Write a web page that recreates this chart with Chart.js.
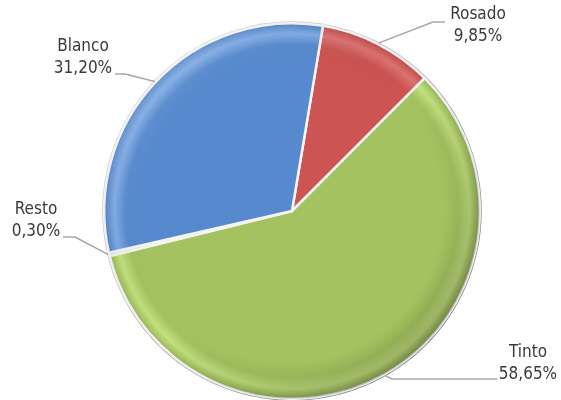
<!DOCTYPE html>
<html>
<head>
<meta charset="utf-8">
<script src="https://cdn.jsdelivr.net/npm/chart.js@4.4.1/dist/chart.umd.min.js"></script>
<style>
  html, body { margin: 0; padding: 0; background: #fff; }
  #wrap { width: 561px; height: 400px; position: relative; }
</style>
</head>
<body>
<div id="wrap"><canvas id="pieChart"></canvas></div>
<script>
// data, clockwise from the top
const categories = ["Rosado", "Tinto", "Resto", "Blanco"];
const shares = [9.85, 58.65, 0.30, 31.20];
const shareLabels = ["9,85%", "58,65%", "0,30%", "31,20%"];

const baseColors = ["#cc5452", "#a4c360", "#d9d9d9", "#5689ce"];
const lightColors = ["#dd7472", "#c4e27f", "#eeeeee", "#7eaae6"];
const darkColors = ["#9a3c3a", "#7a9940", "#a0a0a0", "#3d6aa8"];

// where each label text sits, and the elbow of its leader line
const labelLayout = [
  { x: 478, y: 15, elbowX: 433, elbowY: 22, endX: 445 },
  { x: 528, y: 353, elbowX: 392, elbowY: 379, endX: 497 },
  { x: 36, y: 210, elbowX: 75, elbowY: 237, endX: 63 },
  { x: 83, y: 47, elbowX: 125, elbowY: 74, endX: 115 }
];

function sliceFill(ctx) {
  const chart = ctx.chart;
  const area = chart.chartArea;
  const i = ctx.dataIndex;
  if (!area) return baseColors[i];
  const cx = (area.left + area.right) / 2;
  const cy = (area.top + area.bottom) / 2;
  const r = Math.min(area.right - area.left, area.bottom - area.top) / 2;
  const g = chart.ctx.createRadialGradient(cx, cy, 0, cx, cy, r);
  g.addColorStop(0, baseColors[i]);
  g.addColorStop(0.88, baseColors[i]);
  g.addColorStop(0.94, lightColors[i]);
  g.addColorStop(0.98, baseColors[i]);
  g.addColorStop(1, darkColors[i]);
  return g;
}

const outerRing = {
  id: "outerRing",
  beforeDatasetsDraw(chart) {
    const arc = chart.getDatasetMeta(0).data[0];
    if (!arc) return;
    const c = chart.ctx;
    c.save();
    const g = c.createLinearGradient(arc.x - arc.outerRadius, arc.y - arc.outerRadius, arc.x + arc.outerRadius, arc.y + arc.outerRadius);
    g.addColorStop(0, "#e6e6e6");
    g.addColorStop(0.5, "#b0b0b0");
    g.addColorStop(1, "#6f6f6f");
    c.beginPath();
    c.arc(arc.x, arc.y, arc.outerRadius + 2, 0, Math.PI * 2);
    c.fillStyle = g;
    c.fill();
    c.restore();
  },
  afterDatasetsDraw(chart) {
    // shade the lower right rim, as if lit from the upper left
    const arc = chart.getDatasetMeta(0).data[0];
    if (!arc) return;
    const r = arc.outerRadius;
    const size = Math.ceil(r * 2);
    const off = document.createElement("canvas");
    off.width = size;
    off.height = size;
    const o = off.getContext("2d");
    const lg = o.createLinearGradient(r * 0.3, r * 0.3, r * 1.7, r * 1.7);
    lg.addColorStop(0, "rgba(255,255,255,0.15)");
    lg.addColorStop(0.5, "rgba(0,0,0,0)");
    lg.addColorStop(1, "rgba(0,0,0,0.28)");
    o.fillStyle = lg;
    o.fillRect(0, 0, size, size);
    o.globalCompositeOperation = "destination-in";
    const rg = o.createRadialGradient(r, r, 0, r, r, r);
    rg.addColorStop(0, "rgba(0,0,0,0)");
    rg.addColorStop(0.8, "rgba(0,0,0,0)");
    rg.addColorStop(1, "rgba(0,0,0,1)");
    o.fillStyle = rg;
    o.beginPath();
    o.arc(r, r, r, 0, Math.PI * 2);
    o.fill();
    chart.ctx.drawImage(off, arc.x - r, arc.y - r);
  }
};

const leaderLabels = {
  id: "leaderLabels",
  afterDatasetsDraw(chart) {
    const c = chart.ctx;
    const arcs = chart.getDatasetMeta(0).data;
    c.save();
    arcs.forEach((arc, i) => {
      const lay = labelLayout[i];
      const mid = (arc.startAngle + arc.endAngle) / 2;
      const sx = arc.x + Math.cos(mid) * (arc.outerRadius + 1);
      const sy = arc.y + Math.sin(mid) * (arc.outerRadius + 1);
      c.strokeStyle = "#a6a6a6";
      c.lineWidth = 1.5;
      c.beginPath();
      c.moveTo(sx, sy);
      c.lineTo(lay.elbowX, lay.elbowY);
      c.lineTo(lay.endX, lay.elbowY);
      c.stroke();
      c.fillStyle = "#3a3a3a";
      c.font = "17px 'DejaVu Sans Condensed', 'DejaVu Sans', sans-serif";
      c.textAlign = "center";
      c.textBaseline = "middle";
      c.fillText(categories[i], lay.x, lay.y);
      c.fillText(shareLabels[i], lay.x, lay.y + 22);
    });
    c.restore();
  }
};

new Chart(document.getElementById("pieChart"), {
  type: "pie",
  data: {
    labels: categories,
    datasets: [{
      data: shares,
      backgroundColor: sliceFill,
      borderColor: "#f4f4f4",
      borderWidth: 2.5,
      borderJoinStyle: "miter"
    }]
  },
  options: {
    responsive: true,
    maintainAspectRatio: false,
    animation: false,
    rotation: 9.5,
    layout: { padding: { top: 22, bottom: 0, left: 102, right: 79 } },
    plugins: {
      legend: { display: false },
      tooltip: { enabled: false }
    }
  },
  plugins: [outerRing, leaderLabels]
});
</script>
</body>
</html>
